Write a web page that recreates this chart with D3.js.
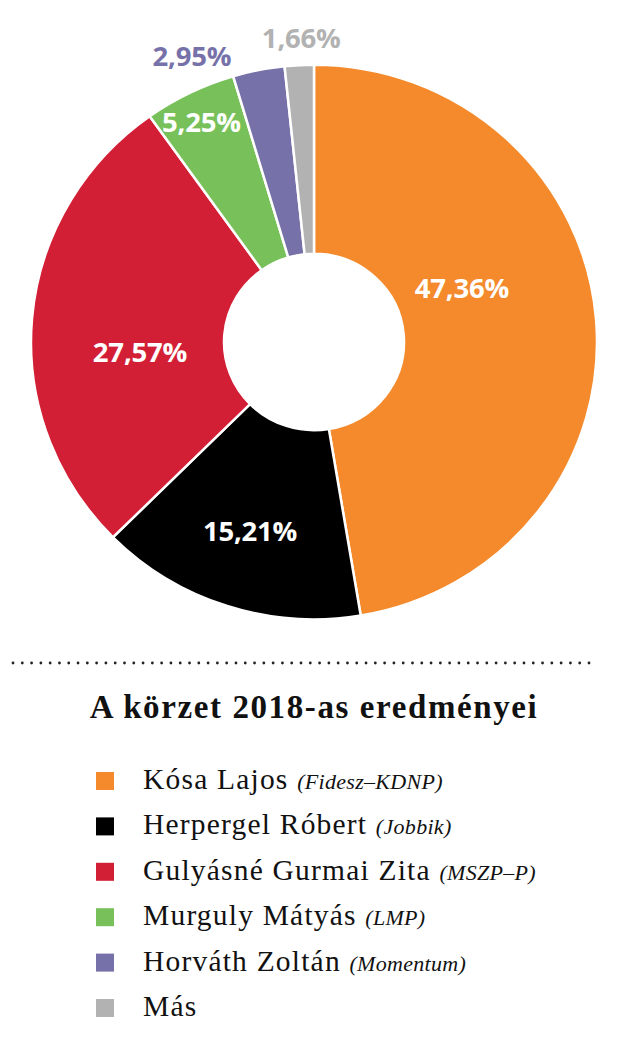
<!DOCTYPE html>
<html>
<head>
<meta charset="utf-8">
<script src="https://cdn.jsdelivr.net/npm/d3@7"></script>
<style>
  html, body { margin: 0; padding: 0; background: #fff; }
  svg { display: block; }
</style>
</head>
<body>
<svg id="chart" width="631" height="1044"></svg>
<script>
// ---- data ----
const candidates = ["Kósa Lajos", "Herpergel Róbert", "Gulyásné Gurmai Zita", "Murguly Mátyás", "Horváth Zoltán", "Más"];
const parties = ["(Fidesz–KDNP)", "(Jobbik)", "(MSZP–P)", "(LMP)", "(Momentum)", ""];
const shares = [47.36, 15.21, 27.57, 5.25, 2.95, 1.66];
const shareLabels = ["47,36%", "15,21%", "27,57%", "5,25%", "2,95%", "1,66%"];
const colors = ["#f48a2c", "#000000", "#d31f35", "#78c15a", "#7672a9", "#b2b2b2"];
const title = "A körzet 2018-as eredményei";

// ---- layout (not data) ----
const cx = 314, cy = 342, outerR = 283, innerR = 90, ySquash = 0.98;
// label anchor: angle (deg, clockwise from top) and radius, colour mode
const labelLayout = [
  { angle: 69.9, r: 157.5, outside: false },
  { angle: 198.7, r: 199.5, outside: false },
  { angle: 266.7, r: 174.3, outside: false },
  { angle: 332.9, r: 247, outside: false },
  { angle: 336.9, r: 311, outside: true },
  { angle: 357.6, r: 304, outside: true }
];

const svg = d3.select("#chart");
const data = shares.map((v, i) => ({ i, value: v }));

const pie = d3.pie().sort(null).value(d => d.value);
const arc = d3.arc().innerRadius(innerR).outerRadius(outerR);
const arcs = pie(data);

const g = svg.append("g").attr("transform", `translate(${cx},${cy}) scale(1,${ySquash})`);
g.selectAll("path")
  .data(arcs)
  .join("path")
  .attr("d", arc)
  .attr("fill", d => colors[d.data.i])
  .attr("stroke", "#fff")
  .attr("stroke-width", 2.5)
  .attr("stroke-linejoin", "miter");

// labels
const lblSize = 27.5;
svg.append("g").selectAll("text")
  .data(arcs)
  .join("text")
  .attr("x", d => {
    const L = labelLayout[d.data.i];
    return cx + L.r * Math.sin(L.angle * Math.PI / 180);
  })
  .attr("y", d => {
    const L = labelLayout[d.data.i];
    return cy - L.r * Math.cos(L.angle * Math.PI / 180) + lblSize * 0.357;
  })
  .attr("text-anchor", "middle")
  .attr("font-family", "'Open Sans', sans-serif")
  .attr("font-weight", 700)
  .attr("font-size", lblSize)
  .attr("letter-spacing", "-0.2px")
  .attr("fill", d => labelLayout[d.data.i].outside ? colors[d.data.i] : "#fff")
  .text(d => shareLabels[d.data.i]);

// dotted separator
const dotScale = d3.scaleLinear().domain([0, 62]).range([13, 589]);
svg.append("g").selectAll("circle")
  .data(d3.range(63))
  .join("circle")
  .attr("cx", d => dotScale(d))
  .attr("cy", 663)
  .attr("r", 1.4)
  .attr("fill", "#222");

// title
svg.append("text")
  .attr("x", 314)
  .attr("y", 718)
  .attr("text-anchor", "middle")
  .attr("font-family", "'Liberation Serif', serif")
  .attr("font-weight", 700)
  .attr("font-size", 33)
  .attr("letter-spacing", "1.6px")
  .attr("fill", "#111")
  .text(title);

// legend
const rowY = d3.scaleLinear().domain([0, 5]).range([781, 1008]);
const leg = svg.append("g").selectAll("g")
  .data(candidates.map((c, i) => i))
  .join("g")
  .attr("transform", i => `translate(0,${rowY(i)})`);

leg.append("rect")
  .attr("x", 96).attr("y", -9)
  .attr("width", 18).attr("height", 18)
  .attr("fill", i => colors[i]);

const lt = leg.append("text")
  .attr("x", 143)
  .attr("y", 8)
  .attr("font-family", "'Liberation Serif', serif")
  .attr("fill", "#111");
lt.append("tspan")
  .attr("font-size", 29.5)
  .attr("letter-spacing", "1.2px")
  .text(i => candidates[i] + (parties[i] ? " " : ""));
lt.append("tspan")
  .attr("font-size", 22)
  .attr("font-style", "italic")
  .attr("letter-spacing", "0.3px")
  .text(i => parties[i]);
</script>
</body>
</html>
